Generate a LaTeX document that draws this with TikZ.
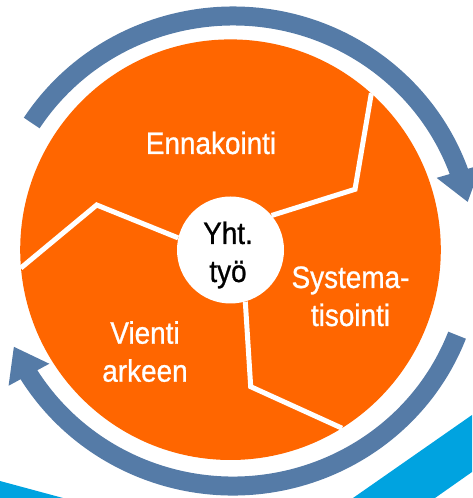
\documentclass[tikz,border=0pt]{standalone}
\usepackage{fontspec}
\setmainfont[FakeStretch=0.9, FakeBold=0.8]{Liberation Sans}
\usetikzlibrary{arrows.meta,bending}
\definecolor{ringblue}{RGB}{85,123,167}
\definecolor{discorange}{RGB}{255,102,0}
\definecolor{swooshcyan}{RGB}{0,163,224}

\begin{document}
\begin{tikzpicture}[x=1pt, y=1pt,
    label text/.style={font=\fontsize{31}{38}\selectfont, align=center, anchor=base},
    divider/.style={white, line width=5pt},
    cycle arrow/.style={ringblue, line width=19pt, -{Triangle[length=32pt, width=44pt, flex]}}]
    \useasboundingbox (0,0) rectangle (472,498);

    % Sfondo
    \fill[swooshcyan] (353,0) -- (472,83) -- (472,26) -- (435,0) -- cycle;
    \fill[swooshcyan] (0,0) -- (0,17) -- (63,0) -- cycle;

    % Frecce circolari
    \coordinate (ring) at (233,247);
    \draw[cycle arrow] ([shift={(147:240 and 235)}]ring) arc[start angle=147, end angle=12, x radius=240, y radius=235];
    \draw[cycle arrow] ([shift={(-21:240 and 235)}]ring) arc[start angle=-21, end angle=-156, x radius=240, y radius=235];

    % Disco e centro
    \node[circle, fill=discorange, minimum size=420.6pt, inner sep=0pt] (disc) at (230.5,248.3) {};
    \node[circle, fill=white, minimum size=107pt, inner sep=0pt] (hub) at (230.5,248) {};

    % Divisori
    \coordinate (bend1) at (355,308.7);
    \coordinate (bend2) at (96.7,293);
    \coordinate (bend3) at (250.7,111.3);
    \draw[divider] (hub.40) -- (bend1) -- (disc.48);
    \draw[divider] (hub.167) -- (bend2) -- (disc.185);
    \draw[divider] (hub.-74) -- (bend3) -- (disc.-58);

    % Testi
    \node[label text, white] (ennakointi) at (211,344) {Ennakointi};
    \node[label text] (yhteistyo) at (228,216) {Yht.\\työ};
    \node[label text, white] (systematisointi) at (350.5,172) {Systema-\\tisointi};
    \node[label text, white] (vienti) at (145,116.3) {Vienti\\arkeen};
\end{tikzpicture}
\end{document}
